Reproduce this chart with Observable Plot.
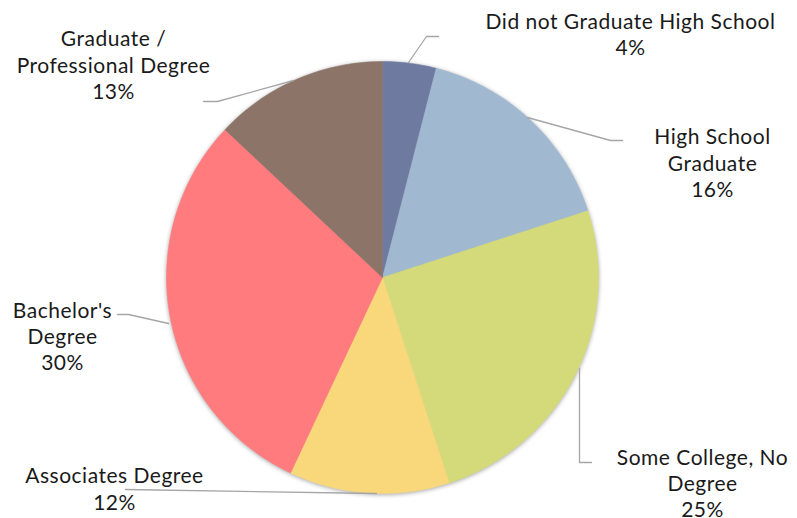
<!DOCTYPE html>
<html>
<head>
<meta charset="utf-8">
<script src="https://cdn.jsdelivr.net/npm/d3@7"></script>
<script src="https://cdn.jsdelivr.net/npm/@observablehq/plot@0.6"></script>
<style>
  html, body { margin: 0; padding: 0; background: #fff; }
  #chart svg { display: block; }
  #chart svg text { letter-spacing: 0.5px; }
</style>
</head>
<body>
<div id="chart"></div>
<script>
// ---- Data ----
const categories = [
  "Did not Graduate High School",
  "High School Graduate",
  "Some College, No Degree",
  "Associates Degree",
  "Bachelor's Degree",
  "Graduate / Professional Degree"
];
const values = [4, 16, 25, 12, 30, 13];
const labelTexts = [
  "Did not Graduate High School\n4%",
  "High School\nGraduate\n16%",
  "Some College, No\nDegree\n25%",
  "Associates Degree\n12%",
  "Bachelor's\nDegree\n30%",
  "Graduate /\nProfessional Degree\n13%"
];
const colors = ["#6F7AA0", "#A0B8D0", "#D4DA7A", "#F9D87C", "#FF7B7D", "#8C7468"];

// ---- Layout (pixels) ----
const W = 797, H = 518;
const CX = 382, CY = 277, R = 216;
const toX = px => (px - CX) / R;
const toY = py => (CY - py) / R;
const labelPos = [
  [630, 33], [712, 161.6], [702, 482], [114, 487.6], [62, 335], [113, 63.6]
];
const leaderPx = [
  [[408, 62], [426, 36], [438, 36]],
  [[527, 117], [610, 140], [622, 140]],
  [[579, 368], [579, 462], [591, 462]],
  [[376, 493], [125, 489]],
  [[168, 323], [128, 314], [117, 314]],
  [[293, 80], [217, 101], [203, 101]]
];

// ---- Build slices ----
const total = d3.sum(values);
const slicePts = [];
let start = 0;
values.forEach((v, i) => {
  const end = start + v / total * 2 * Math.PI;
  slicePts.push({cat: categories[i], x: 0, y: 0});
  const n = Math.max(4, Math.ceil((end - start) / (Math.PI / 180)));
  for (let k = 0; k <= n; k++) {
    const a = start + (end - start) * k / n;
    slicePts.push({cat: categories[i], x: Math.sin(a), y: Math.cos(a)});
  }
  slicePts.push({cat: categories[i], x: 0, y: 0});
  start = end;
});

const leaders = [];
leaderPx.forEach((pts, i) => pts.forEach(([px, py]) =>
  leaders.push({cat: categories[i], x: toX(px), y: toY(py)})));

const labels = categories.map((c, i) => ({
  cat: c, text: labelTexts[i], x: toX(labelPos[i][0]), y: toY(labelPos[i][1])
}));

const chart = Plot.plot({
  width: W,
  height: H,
  marginLeft: CX - R,
  marginRight: W - (CX + R),
  marginTop: CY - R,
  marginBottom: H - (CY + R),
  x: {domain: [-1, 1], axis: null},
  y: {domain: [-1, 1], axis: null},
  color: {domain: categories, range: colors},
  style: {fontFamily: "Lato, 'Open Sans', sans-serif", background: "#fff", overflow: "visible"},
  marks: [
    Plot.line(slicePts, {x: "x", y: "y", z: "cat", fill: "cat", stroke: "cat", strokeWidth: 0.5, curve: "linear"}),
    Plot.line(leaders, {x: "x", y: "y", z: "cat", stroke: "#A6A6A6", strokeWidth: 1.3}),
    Plot.text(labels, {x: "x", y: "y", text: "text", fontSize: 21, lineHeight: 1.25, fill: "#1a1a1a", textAnchor: "middle"})
  ]
});
const g = chart.querySelector('g[aria-label="line"]');
if (g) g.style.filter = "drop-shadow(0px 1px 2px rgba(0,0,0,0.35))";
document.getElementById("chart").appendChild(chart);
</script>
</body>
</html>
